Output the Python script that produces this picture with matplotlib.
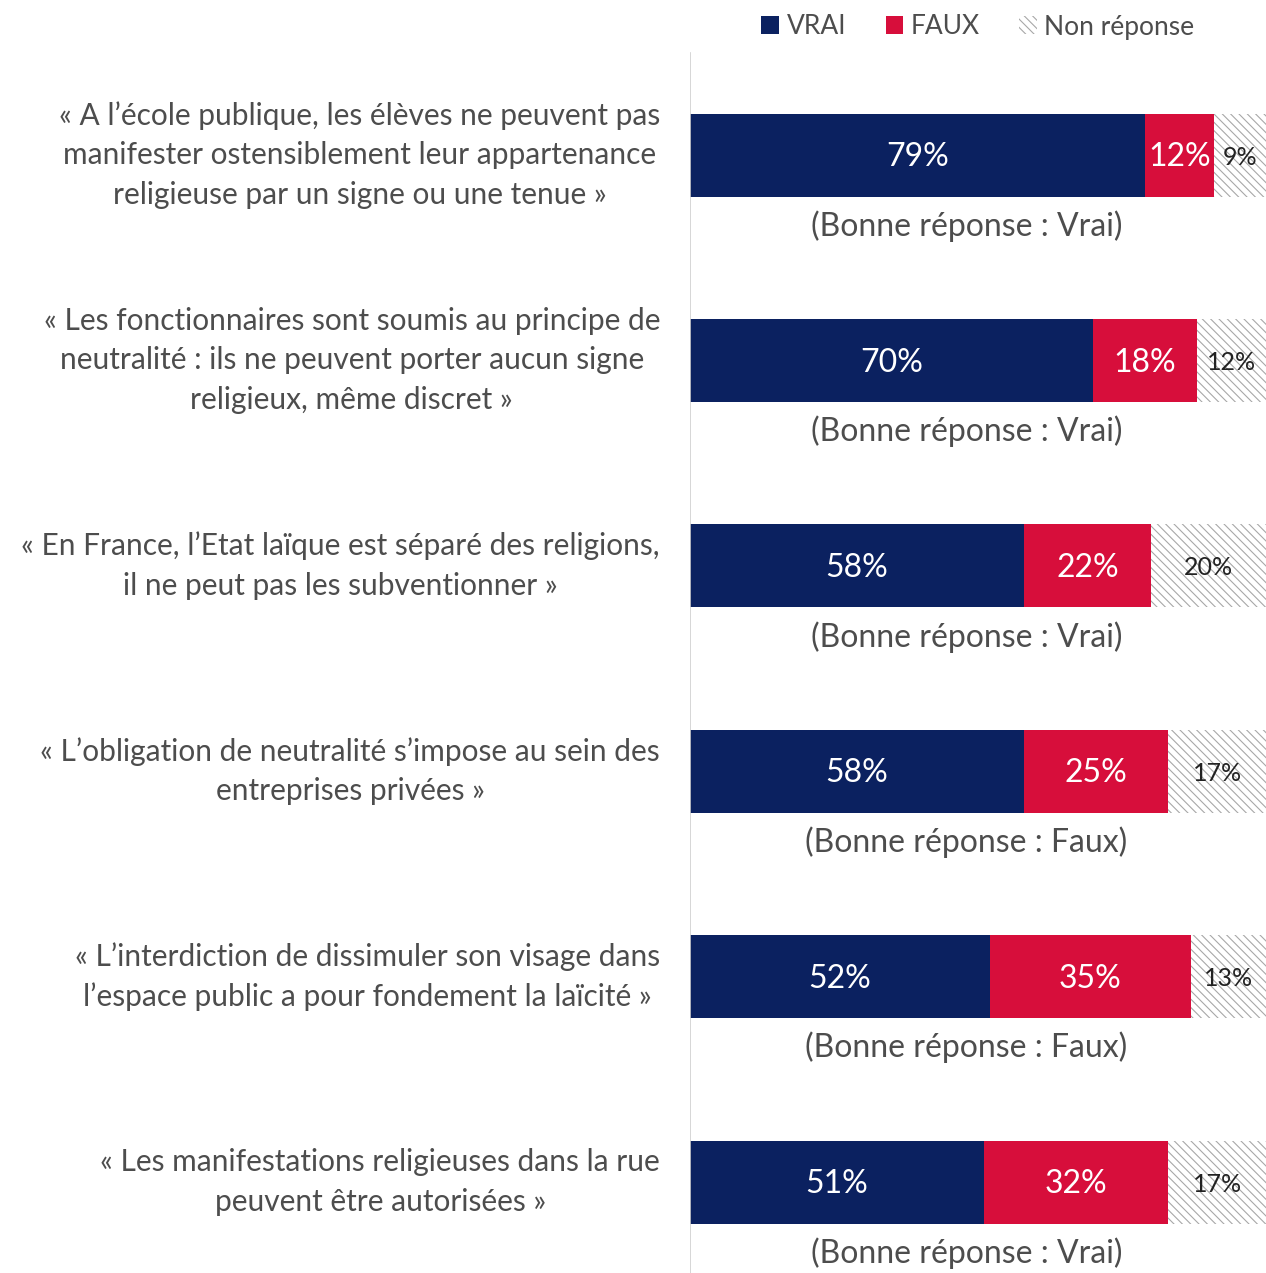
import matplotlib
matplotlib.use("Agg")
import matplotlib.pyplot as plt
from matplotlib.patches import Patch

# ---- Data ----
statements = [
    "« A l’école publique, les élèves ne peuvent pas\nmanifester ostensiblement leur appartenance\nreligieuse par un signe ou une tenue »",
    "« Les fonctionnaires sont soumis au principe de\nneutralité : ils ne peuvent porter aucun signe\nreligieux, même discret »",
    "« En France, l’Etat laïque est séparé des religions,\nil ne peut pas les subventionner »",
    "« L’obligation de neutralité s’impose au sein des\nentreprises privées »",
    "« L’interdiction de dissimuler son visage dans\nl’espace public a pour fondement la laïcité »",
    "« Les manifestations religieuses dans la rue\npeuvent être autorisées »",
]
answers = ["Vrai", "Vrai", "Vrai", "Faux", "Faux", "Vrai"]
vrai = [79, 70, 58, 58, 52, 51]
faux = [12, 18, 22, 25, 35, 32]
non_rep = [9, 12, 20, 17, 13, 17]

# ---- Colors ----
navy = "#0b2160"
red = "#d70e3b"
hatch_gray = "#a8a8a8"
text_gray = "#4d4d4d"

plt.rcParams["font.family"] = ["Lato", "DejaVu Sans"]
plt.rcParams["hatch.linewidth"] = 0.8

W, H = 1266, 1273
fig = plt.figure(figsize=(W / 100, H / 100), dpi=100)
ax = fig.add_axes([690 / W, 0, 576 / W, 1])

rows = list(range(len(vrai)))
bh = 0.404
left2 = [a + b for a, b in zip(vrai, faux)]

ax.barh(rows, vrai, height=bh, color=navy, edgecolor="none")
ax.barh(rows, faux, left=vrai, height=bh, color=red, edgecolor="none")
ax.barh(rows, non_rep, left=left2, height=bh, color="white",
        edgecolor=hatch_gray, hatch="\\\\\\\\", linewidth=0)

for i in rows:
    ax.text(vrai[i] / 2, i + 0.01, f"{vrai[i]}%", ha="center", va="center",
            color="white", fontsize=23)
    ax.text(vrai[i] + faux[i] / 2, i + 0.01, f"{faux[i]}%", ha="center",
            va="center", color="white", fontsize=23)
    ax.text(left2[i] + non_rep[i] / 2, i + 0.01, f"{non_rep[i]}%", ha="center",
            va="center", color="#222222", fontsize=18)
    ax.text(48, i + 0.345, f"(Bonne réponse : {answers[i]})", ha="center",
            va="center", color=text_gray, fontsize=23)
    ax.text(-0.052, i, statements[i], transform=ax.get_yaxis_transform(),
            ha="right", va="center", multialignment="center",
            color=text_gray, fontsize=21.5, linespacing=1.5, clip_on=False)

ax.set_xlim(0, 100)
ax.set_ylim(5.443, -0.755)
ax.axis("off")
ax.axvline(0, ymin=0, ymax=(H - 53) / H, color="#d0d0d0", linewidth=1.2)

handles = [
    Patch(facecolor=navy, edgecolor="none", label="VRAI"),
    Patch(facecolor=red, edgecolor="none", label="FAUX"),
    Patch(facecolor="white", edgecolor=hatch_gray, hatch="\\\\\\\\",
          linewidth=0, label="Non réponse"),
]
fig.legend(handles=handles, loc="center", bbox_to_anchor=(978 / W, 1 - 27 / H),
           ncol=3, frameon=False, fontsize=19, handlelength=0.65,
           handleheight=0.65, handletextpad=0.3, columnspacing=1.5,
           labelcolor=text_gray)

fig.savefig("out.png", dpi=100)
